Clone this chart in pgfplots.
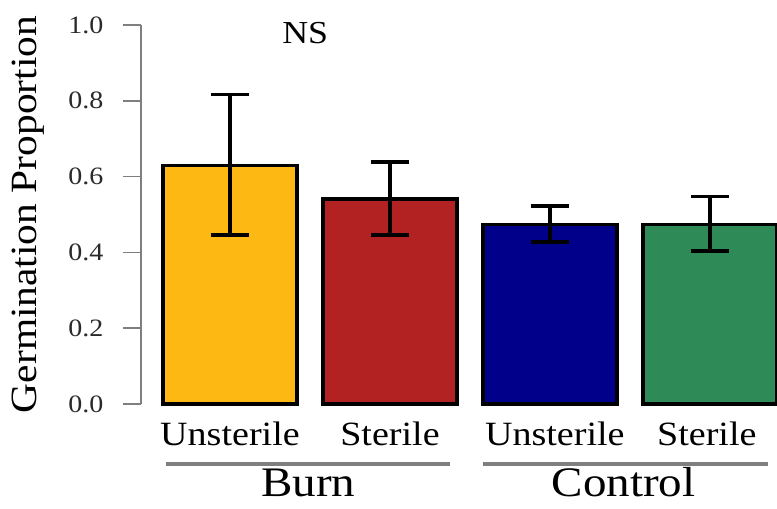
\documentclass[border=0pt]{standalone}
\usepackage{fontspec}
\setmainfont[FakeStretch=1.12]{Liberation Serif}
\usepackage{pgfplots}
\pgfplotsset{compat=1.18}
\definecolor{cYel}{HTML}{FDB813}
\definecolor{cRed}{HTML}{B22222}
\definecolor{cBlu}{HTML}{00008B}
\definecolor{cGrn}{HTML}{2E8B57}
\definecolor{axgray}{HTML}{7F7F7F}
\definecolor{txgray}{HTML}{2A2A2A}
\begin{document}
\begin{tikzpicture}
\begin{axis}[
  scale only axis,
  width=636pt, height=379pt,
  xmin=-0.55625, xmax=3.41875,
  ymin=0, ymax=1,
  axis x line=none,
  axis y line*=left,
  y axis line style={-, axgray, line width=1.6pt},
  ytick={0,0.2,0.4,0.6,0.8,1.0},
  yticklabel style={/pgf/number format/fixed, /pgf/number format/fixed zerofill, /pgf/number format/precision=1, /pgf/number format/assume math mode=true, font=\fontsize{25}{25}\selectfont, text=txgray, xshift=-16pt},
  tick align=outside,
  major tick length=18pt,
  y tick style={axgray, line width=1.6pt},
  ybar, bar shift=0pt, bar width=0.8375,
  clip=false,
  every axis plot/.append style={draw=black, line width=3.2pt},
  error bars/y dir=both, error bars/y explicit,
  error bars/error bar style={black, line width=3.6pt},
  error bars/error mark options={black, line width=3.6pt, mark size=19pt, rotate=90},
]
\addplot[fill=cYel] coordinates {(0,0.629) += (0,0.188) -= (0,0.183)};
\addplot[fill=cRed] coordinates {(1,0.541) += (0,0.097) -= (0,0.095)};
\addplot[fill=cBlu] coordinates {(2,0.474) += (0,0.048) -= (0,0.047)};
\addplot[fill=cGrn] coordinates {(3,0.474) += (0,0.073) -= (0,0.071)};
\node[rotate=90, anchor=center, font=\fontsize{37}{37}\selectfont] at ([xshift=-113pt]axis description cs:0,0.5) {Germination Proportion};
\node[anchor=base, font=\fontsize{32}{32}\selectfont] at (axis cs:0.47,0.9525) {NS};
\node[anchor=base, font=\fontsize{34}{34}\selectfont, yshift=-41pt] at (axis cs:0,0) {Unsterile};
\node[anchor=base, font=\fontsize{34}{34}\selectfont, yshift=-41pt] at (axis cs:1,0) {Sterile};
\node[anchor=base, font=\fontsize{34}{34}\selectfont, yshift=-41pt] at (axis cs:2.03,0) {Unsterile};
\node[anchor=base, font=\fontsize{34}{34}\selectfont, yshift=-41pt] at (axis cs:2.98,0) {Sterile};
\draw[axgray, line width=4pt] ([yshift=-60pt]axis cs:-0.4,0) -- ([yshift=-60pt]axis cs:1.375,0);
\draw[axgray, line width=4pt] ([yshift=-60pt]axis cs:1.58,0) -- ([yshift=-60pt]axis cs:3.36,0);
\node[anchor=base, font=\fontsize{42}{42}\selectfont, yshift=-92pt] at (axis cs:0.49,0) {Burn};
\node[anchor=base, font=\fontsize{42}{42}\selectfont, yshift=-92pt] at (axis cs:2.46,0) {Control};
\end{axis}
\pgfresetboundingbox
\path (-141pt,-105pt) rectangle (636pt,404pt);
\end{tikzpicture}
\end{document}
